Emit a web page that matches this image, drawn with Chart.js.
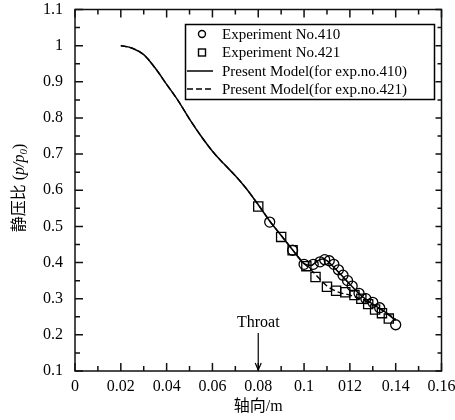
<!DOCTYPE html>
<html>
<head>
<meta charset="utf-8">
<script src="https://cdn.jsdelivr.net/npm/chart.js@4/dist/chart.umd.min.js"></script>
<style>
  body { margin: 0; background: #fff; }
  canvas { display: block; }
</style>
</head>
<body>
<canvas id="myChart" width="455" height="420"></canvas>
<script>
// data
var exp410X = [0.085, 0.095, 0.100, 0.104, 0.107, 0.109, 0.111, 0.113, 0.115, 0.117, 0.119, 0.121, 0.124, 0.127, 0.130, 0.133, 0.140];
var exp410Y = [0.512, 0.434, 0.395, 0.395, 0.402, 0.408, 0.405, 0.395, 0.380, 0.365, 0.350, 0.335, 0.315, 0.300, 0.290, 0.275, 0.228];

var exp421X = [0.080, 0.090, 0.095, 0.101, 0.105, 0.110, 0.114, 0.118, 0.122, 0.125, 0.128, 0.131, 0.134, 0.137];
var exp421Y = [0.555, 0.471, 0.434, 0.390, 0.360, 0.333, 0.322, 0.318, 0.310, 0.300, 0.285, 0.270, 0.260, 0.245];

var model410X = [0.02, 0.025, 0.03, 0.035, 0.04, 0.045, 0.05, 0.055, 0.06, 0.065, 0.07, 0.075, 0.08, 0.085, 0.09, 0.095, 0.1,
  0.103, 0.106, 0.108, 0.11, 0.113, 0.116, 0.12, 0.125, 0.13, 0.135, 0.14];
var model410Y = [1.0, 0.993, 0.975, 0.938, 0.893, 0.848, 0.797, 0.75, 0.708, 0.673, 0.64, 0.603, 0.56, 0.515, 0.475, 0.435, 0.397,
  0.392, 0.405, 0.41, 0.405, 0.387, 0.367, 0.34, 0.308, 0.285, 0.265, 0.24];

var model421X = [0.02, 0.025, 0.03, 0.035, 0.04, 0.045, 0.05, 0.055, 0.06, 0.065, 0.07, 0.075, 0.08, 0.085, 0.09, 0.095, 0.1,
  0.103, 0.106, 0.11, 0.115, 0.12, 0.125, 0.13, 0.135, 0.14];
var model421Y = [1.0, 0.993, 0.975, 0.938, 0.893, 0.848, 0.797, 0.75, 0.708, 0.673, 0.64, 0.603, 0.56, 0.515, 0.475, 0.435, 0.397,
  0.38, 0.36, 0.335, 0.318, 0.31, 0.298, 0.283, 0.265, 0.243];

var seriesNames = ['Experiment No.410', 'Experiment No.421', 'Present Model(for exp.no.410)', 'Present Model(for exp.no.421)'];
var xTickLabels = ['0', '0.02', '0.04', '0.06', '0.08', '0.1', '012', '0.14', '0.16'];
var yTickLabels = ['0.1', '0.2', '0.3', '0.4', '0.5', '0.6', '0.7', '0.8', '0.9', '1', '1.1'];
var xTitle = '轴向/m';
var throatX = 0.08;

function pts(xs, ys) {
  return xs.map(function (x, i) { return { x: x, y: ys[i] }; });
}

var SERIF = "'Liberation Serif', 'Noto Sans CJK SC', serif";

// frame with inward ticks on all four sides
const frameTicks = {
  id: 'frameTicks',
  afterDatasetsDraw(chart) {
    const ctx = chart.ctx, a = chart.chartArea;
    const xs = chart.scales.x, ys = chart.scales.y;
    ctx.save();
    ctx.strokeStyle = '#111';
    ctx.lineWidth = 1.5;
    ctx.strokeRect(a.left, a.top, a.right - a.left, a.bottom - a.top);
    ctx.beginPath();
    const xt = xs.ticks.map(t => t.value);
    xt.forEach(function (v, i) {
      const p = xs.getPixelForValue(v);
      ctx.moveTo(p, a.bottom); ctx.lineTo(p, a.bottom - 8);
      ctx.moveTo(p, a.top); ctx.lineTo(p, a.top + 8);
      if (i < xt.length - 1) {
        const m = xs.getPixelForValue((v + xt[i + 1]) / 2);
        ctx.moveTo(m, a.bottom); ctx.lineTo(m, a.bottom - 5);
        ctx.moveTo(m, a.top); ctx.lineTo(m, a.top + 5);
      }
    });
    const yt = ys.ticks.map(t => t.value);
    yt.forEach(function (v, i) {
      const p = ys.getPixelForValue(v);
      ctx.moveTo(a.left, p); ctx.lineTo(a.left + 8, p);
      ctx.moveTo(a.right, p); ctx.lineTo(a.right - 6, p);
      if (i < yt.length - 1) {
        const m = ys.getPixelForValue((v + yt[i + 1]) / 2);
        ctx.moveTo(a.left, m); ctx.lineTo(a.left + 5, m);
        ctx.moveTo(a.right, m); ctx.lineTo(a.right - 4, m);
      }
    });
    ctx.stroke();
    ctx.restore();
  }
};

// throat arrow, y-axis title, legend box
const extras = {
  id: 'extras',
  afterDraw(chart) {
    const ctx = chart.ctx, a = chart.chartArea;
    const xs = chart.scales.x, ys = chart.scales.y;
    ctx.save();
    ctx.fillStyle = '#000';
    ctx.strokeStyle = '#000';

    // Throat
    const tx = xs.getPixelForValue(throatX);
    const top = ys.getPixelForValue(0.205);
    ctx.font = '16px ' + SERIF;
    ctx.textAlign = 'center';
    ctx.textBaseline = 'alphabetic';
    ctx.fillText('Throat', tx, top - 6);
    ctx.lineWidth = 1.2;
    ctx.beginPath();
    ctx.moveTo(tx, top); ctx.lineTo(tx, a.bottom - 1);
    ctx.stroke();
    ctx.beginPath();
    ctx.moveTo(tx - 3, a.bottom - 8); ctx.lineTo(tx, a.bottom - 1); ctx.lineTo(tx + 3, a.bottom - 8);
    ctx.stroke();

    // y title: 静压比 (p/p0)
    ctx.save();
    ctx.translate(20, 188);
    ctx.rotate(-Math.PI / 2);
    const parts = [
      { t: '静压比', f: '16px ' + SERIF, dy: 0 },
      { t: ' (', f: '16px ' + SERIF, dy: 0 },
      { t: 'p/p', f: 'italic 16px ' + SERIF, dy: 0 },
      { t: '0', f: 'italic 11px ' + SERIF, dy: 4 },
      { t: ')', f: '16px ' + SERIF, dy: 0 }
    ];
    let w = 0;
    parts.forEach(function (p) { ctx.font = p.f; p.w = ctx.measureText(p.t).width; w += p.w; });
    let cx = -w / 2;
    ctx.textAlign = 'left';
    ctx.textBaseline = 'middle';
    parts.forEach(function (p) { ctx.font = p.f; ctx.fillText(p.t, cx, p.dy); cx += p.w; });
    ctx.restore();

    // legend
    ctx.lineWidth = 1.5;
    ctx.strokeRect(185.5, 24.5, 249, 75);
    const rows = [34, 52.5, 71, 89];
    ctx.font = '15px ' + SERIF;
    ctx.textAlign = 'left';
    ctx.textBaseline = 'middle';
    seriesNames.forEach(function (n, i) { ctx.fillText(n, 222, rows[i] + 1); });
    ctx.lineWidth = 1.4;
    ctx.beginPath(); ctx.arc(202, rows[0], 3.5, 0, Math.PI * 2); ctx.stroke();
    ctx.strokeRect(198.5, rows[1] - 3.5, 7, 7);
    ctx.lineWidth = 1.5;
    ctx.beginPath(); ctx.moveTo(187, rows[2]); ctx.lineTo(213, rows[2]); ctx.stroke();
    ctx.setLineDash([6, 3]);
    ctx.beginPath(); ctx.moveTo(187, rows[3]); ctx.lineTo(213, rows[3]); ctx.stroke();
    ctx.restore();
  }
};

var ctx = document.getElementById('myChart');
var myChart = new Chart(ctx, {
  type: 'scatter',
  data: {
    datasets: [
      {
        label: seriesNames[0],
        data: pts(exp410X, exp410Y),
        showLine: false,
        pointStyle: 'circle',
        pointRadius: 5,
        pointBorderWidth: 1.3,
        borderColor: '#000',
        backgroundColor: 'rgba(255,255,255,0)',
      },
      {
        label: seriesNames[1],
        data: pts(exp421X, exp421Y),
        showLine: false,
        pointStyle: 'rect',
        pointRadius: 6.5,
        pointBorderWidth: 1.3,
        borderColor: '#000',
        backgroundColor: 'rgba(255,255,255,0)',
      },
      {
        label: seriesNames[3],
        data: pts(model421X, model421Y),
        showLine: true,
        pointRadius: 0,
        borderColor: '#000',
        borderWidth: 1.4,
        borderDash: [6, 3],
        cubicInterpolationMode: 'monotone',
      },
      {
        label: seriesNames[2],
        data: pts(model410X, model410Y),
        showLine: true,
        pointRadius: 0,
        borderColor: '#000',
        borderWidth: 1.5,
        cubicInterpolationMode: 'monotone',
      },
    ]
  },
  options: {
    responsive: false,
    animation: false,
    layout: { padding: { top: 9.5, right: 13.5, left: 0, bottom: 0 } },
    plugins: {
      legend: { display: false },
      tooltip: { enabled: false }
    },
    scales: {
      x: {
        type: 'linear',
        min: 0,
        max: 0.16,
        afterFit: function (s) { s.height = 49; s.paddingLeft = 0; s.paddingRight = 0; },
        grid: { display: false },
        border: { display: false },
        ticks: {
          stepSize: 0.02,
          color: '#000',
          padding: -2,
          maxRotation: 0,
          font: { family: SERIF, size: 16 },
          callback: function (v, i) { return xTickLabels[i]; }
        },
        title: {
          display: true,
          text: xTitle,
          color: '#000',
          font: { family: SERIF, size: 16 },
          padding: { top: 2, bottom: 4 }
        }
      },
      y: {
        min: 0.1,
        max: 1.1,
        afterFit: function (s) { s.width = 75; s.paddingTop = 0; s.paddingBottom = 0; },
        grid: { display: false },
        border: { display: false },
        ticks: {
          stepSize: 0.1,
          color: '#000',
          padding: 4,
          font: { family: SERIF, size: 16 },
          callback: function (v, i) { return yTickLabels[i]; }
        }
      }
    }
  },
  plugins: [frameTicks, extras]
});
</script>
</body>
</html>
